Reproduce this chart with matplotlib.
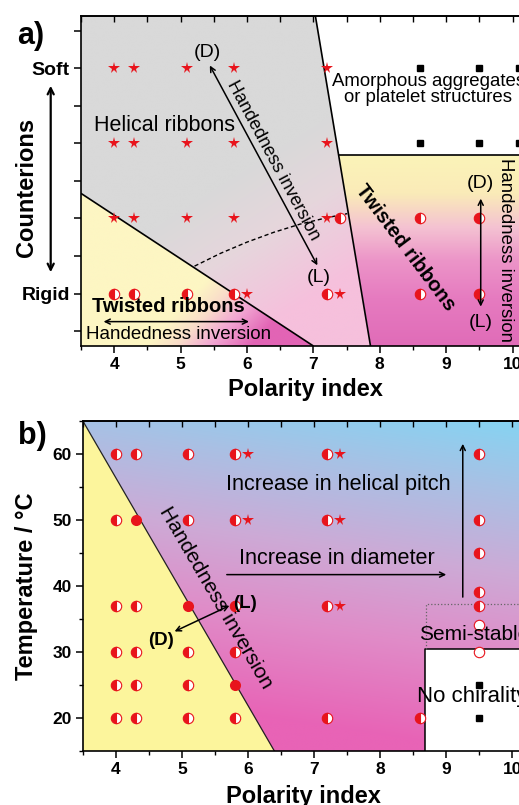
import numpy as np
import matplotlib
matplotlib.use('Agg')
import matplotlib.pyplot as plt
from matplotlib.patches import Polygon, FancyArrowPatch
from matplotlib.colors import LinearSegmentedColormap

plt.rcParams['font.family'] = ['Liberation Sans', 'DejaVu Sans']

# ---------------- panel a data ----------------
a_star_x = [4.0, 4.3, 5.1, 5.8, 7.2, 4.0, 4.3, 5.1, 5.8, 7.2, 4.0, 4.3, 5.1, 5.8, 7.2, 6.0, 7.4]
a_star_y = [6, 6, 6, 6, 6, 4, 4, 4, 4, 4, 2, 2, 2, 2, 2, 0, 0]
a_half_x = [7.4, 8.6, 9.5, 4.0, 4.3, 5.1, 5.8, 7.2, 8.6, 9.5]
a_half_y = [2, 2, 2, 0, 0, 0, 0, 0, 0, 0]
a_square_x = [8.6, 9.5, 10.1, 8.6, 9.5, 10.1]
a_square_y = [6, 6, 6, 4, 4, 4]
a_xticks = [4, 5, 6, 7, 8, 9, 10]
a_yticks = [-1, 0, 1, 2, 3, 4, 5, 6, 7]
a_yticklabels = ['', 'Rigid', '', '', '', '', '', 'Soft', '']
a_xlim = (3.5, 10.5)
a_ylim = (-1.4, 7.4)
# region boundaries (panel a)
a_steep_x = [7.03, 7.86]
a_steep_y = [7.4, -1.4]
a_shelf_x = [7.38, 10.5]
a_shelf_y = [3.68, 3.68]
a_diag_x = [3.5, 7.0]
a_diag_y = [2.67, -1.4]
a_dash_x = [5.21, 5.6, 6.0, 6.4, 6.8, 7.2, 7.51]
a_dash_y = [0.73, 1.07, 1.37, 1.63, 1.85, 2.02, 2.13]

# ---------------- panel b data ----------------
b_half_x = [4.0, 4.3, 5.1, 5.8, 7.2, 9.5,
            4.0, 5.1, 5.8, 7.2, 9.5,
            9.5, 9.5,
            4.0, 4.3, 5.8, 7.2, 9.5,
            4.0, 4.3, 5.1, 5.8,
            4.0, 4.3, 5.1,
            4.0, 4.3, 5.1, 5.8, 7.2, 8.6]
b_half_y = [60, 60, 60, 60, 60, 60,
            50, 50, 50, 50, 50,
            45, 39,
            37, 37, 37, 37, 37,
            30, 30, 30, 30,
            25, 25, 25,
            20, 20, 20, 20, 20, 20]
b_full_x = [4.3, 5.1, 5.8]
b_full_y = [50, 37, 25]
b_star_x = [6.0, 6.0, 7.4, 7.4, 7.4]
b_star_y = [60, 50, 60, 50, 37]
b_open_x = [9.5, 9.5]
b_open_y = [34, 30]
b_square_x = [9.5, 9.5]
b_square_y = [25, 20]
b_xticks = [4, 5, 6, 7, 8, 9, 10]
b_yticks = [20, 30, 40, 50, 60]
b_xlim = (3.5, 10.5)
b_ylim = (15, 65)
b_diag_x = [3.5, 6.4]
b_diag_y = [65, 15]
b_nochir_x0, b_nochir_y1 = 8.68, 30.5
b_semi_x0, b_semi_y1 = 8.7, 37.2

RED = '#e8141c'

fig = plt.figure(figsize=(5.19, 8.05), dpi=100)
axa = fig.add_axes([81 / 519, 1 - 346 / 805, 464.8 / 519, 330 / 805])
axb = fig.add_axes([82.7 / 519, 1 - 751 / 805, 462.7 / 519, 330.3 / 805])


def cmap_from(stops):
    return LinearSegmentedColormap.from_list('c', stops)


def gradient_fill(ax, poly, t, stops, extent):
    rgb = cmap_from(stops)(np.clip(t, 0, 1))[..., :3]
    im = ax.imshow(rgb, extent=extent, origin='lower', aspect='auto',
                   interpolation='bilinear', zorder=0)
    patch = Polygon(poly, closed=True, transform=ax.transData, fc='none', ec='none')
    im.set_clip_path(patch)


# ---------------- panel a backgrounds ----------------
ext_a = [a_xlim[0], a_xlim[1], a_ylim[0], a_ylim[1]]
X, Y = np.meshgrid(np.linspace(*a_xlim, 500), np.linspace(*a_ylim, 500))
polyA = [(3.5, 7.4), (a_steep_x[0], 7.4), (a_steep_x[1], -1.4), (a_diag_x[1], -1.4), (3.5, a_diag_y[0])]
gradient_fill(axa, polyA, (3.3 - Y) / 4.5 + (X - 6.0) / 4.0,
              [(0, '#d9d9d9'), (0.45, '#e6d6dc'), (1, '#f6c0dc')], ext_a)
polyB = [(3.5, a_diag_y[0]), (a_diag_x[1], -1.4), (3.5, -1.4)]
gradient_fill(axa, polyB, (X - 5.1) / 1.6 + (-Y - 0.2) / 3.0,
              [(0, '#fdf6c3'), (0.3, '#f9dcca'), (0.6, '#f2a8d3'), (1, '#e264b5')], ext_a)
polyC = [(a_shelf_x[0], 3.68), (10.5, 3.68), (10.5, -1.4), (a_steep_x[1], -1.4)]
gradient_fill(axa, polyC, (3.68 - Y) / 5.08,
              [(0, '#fbf4b8'), (0.2, '#faebb8'), (0.38, '#f4c2d2'), (0.55, '#ec95c8'),
               (0.75, '#e67bc0'), (1, '#e06cb8')], ext_a)

for xs, ys in [(a_steep_x, a_steep_y), (a_shelf_x, a_shelf_y), (a_diag_x, a_diag_y)]:
    axa.plot(xs, ys, color='black', lw=1.2, zorder=2, solid_capstyle='butt')
axa.plot(a_dash_x, a_dash_y, color='black', lw=1.0, ls=(0, (3, 2)), zorder=2)

axa.plot(a_star_x, a_star_y, ls='none', marker='*', ms=8.5, color=RED, mew=0, zorder=4)
axa.plot(a_half_x, a_half_y, ls='none', marker='o', ms=7.5, fillstyle='left', mfc=RED,
         markerfacecoloralt='white', mec=RED, mew=0.8, zorder=4)
axa.plot(a_square_x, a_square_y, ls='none', marker='s', ms=5, color='black', zorder=4)

arrow = dict(arrowstyle='<->', lw=1.1, color='black', shrinkA=0, shrinkB=0, mutation_scale=9)
axa.text(4.76, 4.48, 'Helical ribbons', fontsize=15.5, ha='center', va='center', zorder=5)
axa.text(8.73, 5.44, 'Amorphous aggregates\nor platelet structures', fontsize=13.4,
         ha='center', va='center', linespacing=0.95, zorder=5)
axa.text(8.39, 1.23, 'Twisted ribbons', rotation=-53, fontsize=14.5, fontweight='bold',
         ha='center', va='center', zorder=5)
axa.text(4.82, -0.34, 'Twisted ribbons', fontsize=14.5, fontweight='bold', ha='center', va='center', zorder=5)
axa.annotate('', xy=(6.03, -0.75), xytext=(3.84, -0.75), arrowprops=arrow, zorder=5)
axa.text(3.57, -1.08, 'Handedness inversion', fontsize=13.5, ha='left', va='center', zorder=5)
axa.annotate('', xy=(7.06, 0.75), xytext=(5.44, 6.08), arrowprops=arrow, zorder=5)
axa.text(6.40, 3.55, 'Handedness inversion', rotation=-61.8, fontsize=13, ha='center', va='center', zorder=5)
axa.text(5.40, 6.43, '(D)', fontsize=14, ha='center', va='center', zorder=5)
axa.text(7.08, 0.43, '(L)', fontsize=14, ha='center', va='center', zorder=5)
axa.text(9.52, 2.93, '(D)', fontsize=14, ha='center', va='center', zorder=5)
axa.text(9.52, -0.77, '(L)', fontsize=14, ha='center', va='center', zorder=5)
axa.annotate('', xy=(9.52, -0.35), xytext=(9.52, 2.53), arrowprops=arrow, zorder=5)
axa.text(9.90, 1.15, 'Handedness inversion', rotation=-90, fontsize=13.4, ha='center', va='center', zorder=5)

axa.set_xlim(*a_xlim)
axa.set_ylim(*a_ylim)
axa.set_xticks(a_xticks)
axa.set_xticklabels([str(v) for v in a_xticks], fontsize=12.5, fontweight='bold')
axa.set_xticks(np.arange(3.5, 10.51, 0.5), minor=True)
axa.set_yticks(a_yticks)
axa.set_yticklabels(a_yticklabels, fontsize=14, fontweight='bold')
axa.set_xlabel('Polarity index', fontsize=17, fontweight='bold')
axa.xaxis.set_label_coords(0.482, -0.098)
axa.set_ylabel('Counterions', fontsize=17, fontweight='bold')
axa.yaxis.set_label_coords(-0.093, 0.482)

# ---------------- panel b backgrounds ----------------
ext_b = [b_xlim[0], b_xlim[1], b_ylim[0], b_ylim[1]]
X, Y = np.meshgrid(np.linspace(*b_xlim, 500), np.linspace(*b_ylim, 500))
polyY = [(3.5, 65), (b_diag_x[1], 15), (3.5, 15)]
axb.add_patch(Polygon(polyY, closed=True, fc='#fcf59c', ec='none', zorder=0))
polyG = [(3.5, 65), (10.5, 65), (10.5, b_nochir_y1), (b_nochir_x0, b_nochir_y1),
         (b_nochir_x0, 15), (b_diag_x[1], 15)]
gradient_fill(axb, polyG, (65 - Y) / 50 + 0.03 * (9.5 - X),
              [(0, '#88d2f1'), (0.2, '#a9c0e4'), (0.45, '#cdaad6'), (0.7, '#e08cc8'), (1, '#e863b6')],
              ext_b)
axb.plot(b_diag_x, b_diag_y, color='#222222', lw=0.9, zorder=2)
axb.plot([b_nochir_x0, b_nochir_x0, 10.5], [15, b_nochir_y1, b_nochir_y1], color='black', lw=1.1, zorder=2)
axb.plot([b_semi_x0, b_semi_x0, 10.5], [b_nochir_y1, b_semi_y1, b_semi_y1], color='#666666',
         lw=0.9, ls=':', zorder=2)

axb.plot(b_half_x, b_half_y, ls='none', marker='o', ms=7.5, fillstyle='left', mfc=RED,
         markerfacecoloralt='white', mec=RED, mew=0.8, zorder=4)
axb.plot(b_full_x, b_full_y, ls='none', marker='o', ms=8, color=RED, mew=0, zorder=4)
axb.plot(b_star_x, b_star_y, ls='none', marker='*', ms=8.5, color=RED, mew=0, zorder=4)
axb.plot(b_open_x, b_open_y, ls='none', marker='o', ms=7.5, mfc='white', mec=RED, mew=0.8, zorder=4)
axb.plot(b_square_x, b_square_y, ls='none', marker='s', ms=5, color='black', zorder=4)

one = dict(arrowstyle='->', lw=1.1, color='black', shrinkA=0, shrinkB=0, mutation_scale=9)
axb.text(7.37, 55.3, 'Increase in helical pitch', fontsize=15.6, ha='center', va='center', zorder=5)
axb.text(7.34, 44.1, 'Increase in diameter', fontsize=15.6, ha='center', va='center', zorder=5)
axb.annotate('', xy=(9.0, 41.7), xytext=(5.68, 41.7), arrowprops=one, zorder=5)
axb.annotate('', xy=(9.25, 61.5), xytext=(9.25, 38.3), arrowprops=one, zorder=5)
axb.text(5.52, 38.2, 'Handedness inversion', rotation=-59.8, fontsize=15, ha='center', va='center', zorder=5)
axb.annotate('', xy=(5.72, 37.0), xytext=(4.89, 33.1), arrowprops=arrow, zorder=5)
axb.text(4.69, 31.7, '(D)', fontsize=13.5, fontweight='bold', ha='center', va='center', zorder=5)
axb.text(5.95, 37.3, '(L)', fontsize=13.5, fontweight='bold', ha='center', va='center', zorder=5)
axb.text(8.59, 32.6, 'Semi-stable', fontsize=15, ha='left', va='center', zorder=5)
axb.text(8.55, 23.2, 'No chirality', fontsize=16, ha='left', va='center', zorder=5)

axb.set_xlim(*b_xlim)
axb.set_ylim(*b_ylim)
axb.set_xticks(b_xticks)
axb.set_xticklabels([str(v) for v in b_xticks], fontsize=12.5, fontweight='bold')
axb.set_xticks(np.arange(3.5, 10.51, 0.5), minor=True)
axb.set_yticks(b_yticks)
axb.set_yticklabels([str(v) for v in b_yticks], fontsize=12.5, fontweight='bold')
axb.set_yticks(np.arange(15, 65.1, 5), minor=True)
axb.set_xlabel('Polarity index', fontsize=17, fontweight='bold')
axb.xaxis.set_label_coords(0.478, -0.102)
axb.set_ylabel('Temperature / °C', fontsize=17, fontweight='bold')
axb.yaxis.set_label_coords(-0.097, 0.5)

for ax in (axa, axb):
    for s in ax.spines.values():
        s.set_linewidth(1.2)
        s.set_zorder(6)
    ax.tick_params(which='major', direction='out', length=5, width=1.1, pad=3)
    ax.tick_params(which='minor', direction='out', length=3, width=1.0)
    sec = ax.secondary_xaxis('top')
    sec.set_xticks(np.arange(3.5, 10.51, 0.5))
    sec.set_xticklabels([])
    sec.tick_params(direction='in', length=4, width=1.0)
    sec.spines['top'].set_linewidth(1.2)

fig.text(31 / 519, 1 - 36 / 805, 'a)', fontsize=22, fontweight='bold', ha='center', va='center')
fig.text(32 / 519, 1 - 436 / 805, 'b)', fontsize=22, fontweight='bold', ha='center', va='center')
fig.add_artist(FancyArrowPatch((50.7 / 519, 1 - 83 / 805), (50.7 / 519, 1 - 275 / 805),
                               transform=fig.transFigure, arrowstyle='<->',
                               lw=1.6, color='black', mutation_scale=11))

fig.savefig('out.png', dpi=100)
